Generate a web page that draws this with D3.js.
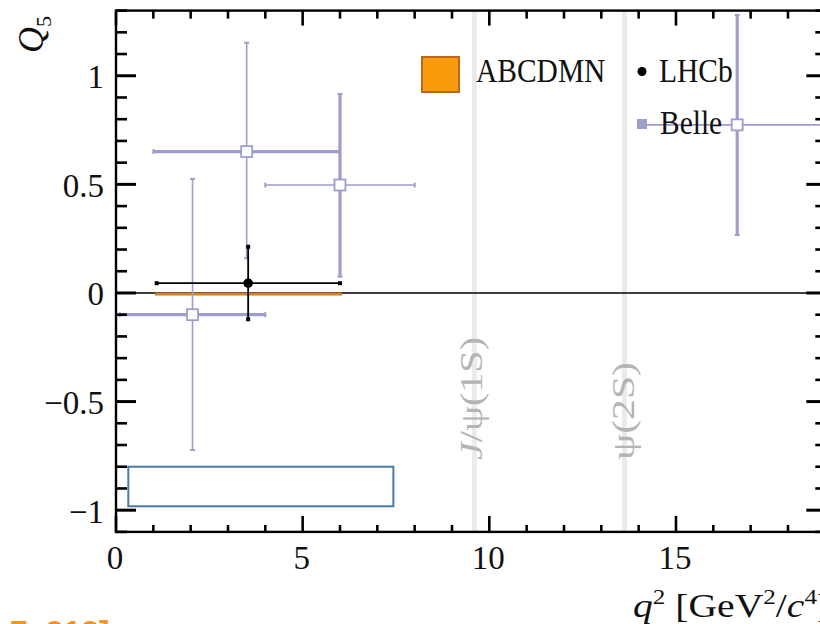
<!DOCTYPE html>
<html><head><meta charset="utf-8">
<script src="https://cdn.jsdelivr.net/npm/d3@7"></script>
<style>html,body{margin:0;padding:0;background:#fff;overflow:hidden}</style>
</head><body>
<svg id="c" width="820" height="624"></svg>
<script>
// ---- data ----
const xDomain = [0, 19];
const yDomain = [-1.1, 1.3];
const xMajorTicks = [0, 5, 10, 15];
const yMajorTicks = [-1, -0.5, 0, 0.5, 1];
const yTickLabels = ["\u22121", "\u22120.5", "0", "0.5", "1"];

// Belle: bin centre, value, bin low/high, error low/high
const belleX    = [2.05, 3.5, 6.0, 16.64];
const belleY    = [-0.10, 0.651, 0.497, 0.774];
const belleXlo  = [0.1, 1.0, 4.0, 14.18];
const belleXhi  = [4.0, 6.0, 8.0, 19.0];
const belleYlo  = [-0.723, 0.16, 0.075, 0.267];
const belleYhi  = [0.525, 1.152, 0.916, 1.28];

// LHCb
const lhcbX   = [3.54];
const lhcbY   = [0.045];
const lhcbXlo = [1.09];
const lhcbXhi = [6.0];
const lhcbYlo = [-0.121];
const lhcbYhi = [0.213];

// ABCDMN prediction band
const abcdmnXlo = [1.06];
const abcdmnXhi = [6.04];
const abcdmnYlo = [-0.009];
const abcdmnYhi = [0.0];

// charmonium resonances
const resonanceX = [9.6, 13.62];
const resonanceLabels = ["J/\u03c8(1S)", "\u03c8(2S)"];

// annotation box
const boxX = [0.33, 7.43];
const boxY = [-0.982, -0.80];

const legendLabels = ["ABCDMN", "LHCb", "Belle"];

// ---- styles (not data) ----
const belleThickH = [true, true, false, false];
const belleThickV = [false, false, true, true];
const belleCol = "#9e9ece";

const svg = d3.select("#c");
const L = 116, R = 825.3, T = 10.6, B = 531.9;
const x = d3.scaleLinear().domain(xDomain).range([L, R]);
const y = d3.scaleLinear().domain(yDomain).range([B, T]);
const serif = "'Liberation Serif','Times New Roman',serif";

// resonance bands
const g0 = svg.append("g");
resonanceX.forEach((v, i) => {
  g0.append("line").attr("x1", x(v)).attr("x2", x(v)).attr("y1", T).attr("y2", B)
    .attr("stroke", "#ebebeb").attr("stroke-width", 5);
});
const resLen = [123, 98];
const resBase = [482, 634];
resonanceLabels.forEach((t, i) => {
  const tx = g0.append("text").attr("transform", `translate(${resBase[i]},460) rotate(-90)`)
    .attr("font-family", serif).attr("font-size", 32).attr("fill", "#b4b4b4")
    .attr("textLength", resLen[i]).attr("lengthAdjust", "spacingAndGlyphs");
  if (t.startsWith("J")) {
    tx.append("tspan").attr("font-style", "italic").text("J");
    tx.append("tspan").text(t.slice(1));
  } else tx.text(t);
});

// zero line
svg.append("line").attr("x1", L).attr("x2", R).attr("y1", y(0)).attr("y2", y(0))
  .attr("stroke", "#000").attr("stroke-width", 1.5);

// ABCDMN band
abcdmnXlo.forEach((v, i) => {
  svg.append("rect").attr("x", x(v)).attr("width", x(abcdmnXhi[i]) - x(v))
    .attr("y", y(abcdmnYhi[i])).attr("height", Math.max(2, y(abcdmnYlo[i]) - y(abcdmnYhi[i])))
    .attr("fill", "#f39a1e").attr("stroke", "#b86a28").attr("stroke-width", 1);
});

// Belle
const gb = svg.append("g");
function seg(g, x1, y1, x2, y2, col, w) {
  g.append("line").attr("x1", x1).attr("y1", y1).attr("x2", x2).attr("y2", y2)
    .attr("stroke", col).attr("stroke-width", w);
}
belleX.forEach((v, i) => {
  const wh = belleThickH[i] ? 3.2 : 1.6, wv = belleThickV[i] ? 3.2 : 1.6;
  const cy = y(belleY[i]), cx = x(v);
  seg(gb, x(belleXlo[i]), cy, Math.min(x(belleXhi[i]), 830), cy, belleCol, wh);
  seg(gb, cx, y(belleYlo[i]), cx, y(belleYhi[i]), belleCol, wv);
  seg(gb, x(belleXlo[i]), cy - 2.5, x(belleXlo[i]), cy + 2.5, belleCol, 2);
  seg(gb, x(belleXhi[i]), cy - 2.5, x(belleXhi[i]), cy + 2.5, belleCol, 2);
  seg(gb, cx - 2.5, y(belleYlo[i]), cx + 2.5, y(belleYlo[i]), belleCol, 2);
  seg(gb, cx - 2.5, y(belleYhi[i]), cx + 2.5, y(belleYhi[i]), belleCol, 2);
});
belleX.forEach((v, i) => {
  gb.append("rect").attr("x", x(v) - 5.5).attr("y", y(belleY[i]) - 5.5)
    .attr("width", 11).attr("height", 11).attr("fill", "#fff")
    .attr("stroke", belleCol).attr("stroke-width", 1.8);
});

// LHCb
const gl = svg.append("g");
lhcbX.forEach((v, i) => {
  const cy = y(lhcbY[i]), cx = x(v);
  seg(gl, x(lhcbXlo[i]), cy, x(lhcbXhi[i]), cy, "#000", 1.8);
  seg(gl, cx, y(lhcbYlo[i]), cx, y(lhcbYhi[i]), "#000", 1.8);
  [[x(lhcbXlo[i]), cy], [x(lhcbXhi[i]), cy], [cx, y(lhcbYlo[i])], [cx, y(lhcbYhi[i])]].forEach(p => {
    gl.append("rect").attr("x", p[0] - 2).attr("y", p[1] - 2).attr("width", 4).attr("height", 4).attr("fill", "#000");
  });
  gl.append("circle").attr("cx", cx).attr("cy", cy).attr("r", 4.8).attr("fill", "#000");
});

// annotation box
svg.append("rect").attr("x", x(boxX[0])).attr("y", y(boxY[1]))
  .attr("width", x(boxX[1]) - x(boxX[0])).attr("height", y(boxY[0]) - y(boxY[1]))
  .attr("fill", "none").attr("stroke", "#4a7bab").attr("stroke-width", 2);

// frame
svg.append("rect").attr("x", L).attr("y", T).attr("width", R - L).attr("height", B - T)
  .attr("fill", "none").attr("stroke", "#000").attr("stroke-width", 2.4);

// ticks
const gt = svg.append("g").attr("stroke", "#000");
const xMinor = d3.range(xDomain[0], xDomain[1] + 0.001, 1);
xMinor.forEach(v => {
  const major = v % 5 === 0;
  const lb = major ? 16 : 7, lt = major ? 15 : 8;
  gt.append("line").attr("x1", x(v)).attr("x2", x(v)).attr("y1", B).attr("y2", B - lb).attr("stroke-width", 2.6);
  gt.append("line").attr("x1", x(v)).attr("x2", x(v)).attr("y1", T).attr("y2", T + lt).attr("stroke-width", 2.6);
});
const yMinor = d3.range(-11, 14, 1).map(k => k / 10);
yMinor.forEach(v => {
  const major = Math.abs(v * 2 - Math.round(v * 2)) < 1e-9;
  const len = major ? 20 : 11;
  gt.append("line").attr("x1", L).attr("x2", L + len).attr("y1", y(v)).attr("y2", y(v)).attr("stroke-width", major ? 3 : 2.6);
  gt.append("line").attr("x1", R).attr("x2", R - (major ? 19 : 10)).attr("y1", y(v)).attr("y2", y(v)).attr("stroke-width", major ? 3 : 2.6);
});

// tick labels
xMajorTicks.forEach(v => {
  svg.append("text").attr("x", x(v) - 1).attr("y", 569).attr("text-anchor", "middle")
    .attr("font-family", serif).attr("font-size", 33).attr("fill", "#111").text(String(v));
});
yMajorTicks.forEach((v, i) => {
  svg.append("text").attr("x", 104).attr("y", y(v) + 12.5).attr("text-anchor", "end")
    .attr("font-family", serif).attr("font-size", 33).attr("fill", "#111").text(yTickLabels[i]);
});

// axis titles
const yt = svg.append("text").attr("transform", "translate(43,53) rotate(-90)")
  .attr("font-family", serif).attr("font-size", 36).attr("fill", "#111");
yt.append("tspan").attr("font-style", "italic").text("Q");
yt.append("tspan").attr("font-size", 22).attr("dy", 8).text("5");

const xt = svg.append("text").attr("transform", "translate(633,617) scale(1.2,1)")
  .attr("font-family", serif).attr("font-size", 33).attr("fill", "#111");
xt.append("tspan").attr("font-style", "italic").text("q");
xt.append("tspan").attr("font-size", 21).attr("dy", -13).text("2");
xt.append("tspan").attr("dy", 13).text(" [GeV");
xt.append("tspan").attr("font-size", 21).attr("dy", -13).text("2");
xt.append("tspan").attr("dy", 13).text("/");
xt.append("tspan").attr("font-style", "italic").text("c");
xt.append("tspan").attr("font-size", 21).attr("dy", -13).text("4");
xt.append("tspan").attr("dy", 13).text("]");

// legend
const lg = svg.append("g");
lg.append("rect").attr("x", 422).attr("y", 57).attr("width", 37).attr("height", 35)
  .attr("fill", "#f99b0c").attr("stroke", "#c0661c").attr("stroke-width", 2);
function legText(tx, ty, t) {
  lg.append("text").attr("transform", `translate(${tx},${ty}) scale(1,1.15)`)
    .attr("font-family", serif).attr("font-size", 29.5).attr("fill", "#111").text(t);
}
legText(476, 82, legendLabels[0]);
lg.append("circle").attr("cx", 642).attr("cy", 71.5).attr("r", 4.5).attr("fill", "#000");
legText(659, 82, legendLabels[1]);
lg.append("rect").attr("x", 637).attr("y", 119).attr("width", 10).attr("height", 10).attr("fill", belleCol);
legText(660, 134, legendLabels[2]);

// cropped orange caption at the bottom
svg.append("text").attr("x", 10).attr("y", 643).attr("font-family", "'Liberation Sans',Arial,sans-serif")
  .attr("font-weight", "bold").attr("font-size", 32).attr("fill", "#f7941d").text("7, 212]");
</script>
</body></html>
